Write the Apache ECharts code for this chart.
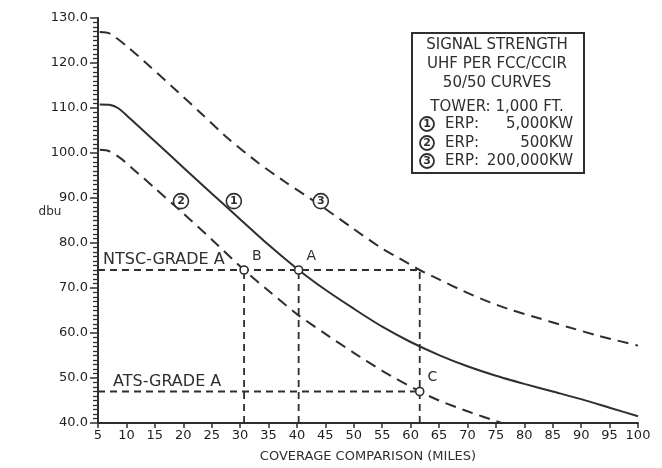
<!DOCTYPE html>
<html>
<head>
<meta charset="utf-8">
<script src="https://cdn.jsdelivr.net/npm/echarts@6/dist/echarts.min.js"></script>
<style>
  html, body { margin: 0; padding: 0; background: #ffffff; }
  #chart { width: 662px; height: 468px; }
</style>
</head>
<body>
<div id="chart"></div>
<script>
// UHF 50/50 field-strength curves, tower height 1,000 ft.
// Curve 1: ERP 5,000 kW (solid)
const curve1Miles = [5.3, 7, 8.5, 10, 12.6, 15, 20, 25, 30, 35, 40.3, 45, 50, 55, 60, 65, 70, 75, 80, 85, 90, 95, 100];
const curve1Dbu   = [110.8, 110.7, 110.0, 108.4, 105.4, 102.6, 96.8, 91.0, 85.3, 79.6, 74.0, 69.6, 65.4, 61.4, 58.0, 55.1, 52.6, 50.5, 48.7, 47.0, 45.3, 43.4, 41.5];
// Curve 2: ERP 500 kW (dashed)
const curve2Miles = [5.3, 7, 9, 11.3, 15, 20, 25, 30.7, 35, 40, 45, 50, 55, 61.6, 65, 70, 76];
const curve2Dbu   = [100.7, 100.4, 98.8, 96.3, 92.2, 86.6, 80.8, 74.0, 69.4, 64.2, 59.8, 55.6, 51.6, 47.0, 45.0, 42.6, 40.0];
// Curve 3: ERP 200,000 kW (dashed)
const curve3Miles = [5.3, 7, 10, 13.8, 18, 23.4, 28, 33.1, 38, 44.2, 50, 54.7, 58, 61.6, 65, 69.3, 74, 78, 82, 87.5, 93, 100];
const curve3Dbu   = [126.9, 126.6, 123.8, 119.6, 114.8, 108.5, 103.1, 97.9, 93.5, 88.3, 83.1, 79.0, 76.6, 74.0, 71.9, 69.3, 66.8, 65.0, 63.5, 61.4, 59.4, 57.2];

// Curve tags drawn on the plot
const curveTags      = ['1', '2', '3'];
const curveTagMiles  = [28.9, 19.6, 44.2];
const curveTagDbu    = [89.3, 89.3, 89.3];

// Grade A service levels
const gradeNames = ['NTSC-GRADE A', 'ATS-GRADE A'];
const gradeDbu   = [74, 47];
const gradeReach = [61.6, 61.6];   // distance where each level line ends

// Coverage points
const pointNames = ['A', 'B', 'C'];
const pointMiles = [40.3, 30.7, 61.6];
const pointDbu   = [74, 74, 47];
const dropTop    = [74, 74, 74];    // upper end of each vertical drop line

// Axis ranges
const xRange = [5, 100, 5];
const yRange = [40, 130, 10];

const INK = '#2e2e2e';
const FONT = 'DejaVu Sans';

const chart = echarts.init(document.getElementById('chart'), null, { renderer: 'canvas' });

const curveLine = (miles, dbu, dashed) => ({
  type: 'line',
  data: miles.map((m, i) => [m, dbu[i]]),
  showSymbol: false,
  smooth: 0.25,
  silent: true,
  lineStyle: { color: INK, width: 2, type: dashed ? [11, 7] : 'solid' },
  z: 3
});

const refLine = (pts) => ({
  type: 'line',
  data: pts,
  showSymbol: false,
  silent: true,
  lineStyle: { color: INK, width: 1.8, type: [7, 5] },
  z: 2
});

const series = [
  curveLine(curve1Miles, curve1Dbu, false),
  curveLine(curve2Miles, curve2Dbu, true),
  curveLine(curve3Miles, curve3Dbu, true)
];

// level lines
gradeDbu.forEach((v, i) => {
  series.push(refLine([[xRange[0], v], [gradeReach[i], v]]));
});
// vertical drop lines
pointMiles.forEach((m, i) => {
  series.push(refLine([[m, yRange[0]], [m, dropTop[i]]]));
});

// level captions
series.push({
  type: 'scatter',
  silent: true,
  symbolSize: 0,
  itemStyle: { opacity: 1 },
  data: gradeNames.map((n, i) => ({
    name: n,
    value: [xRange[0], gradeDbu[i]],
    label: { distance: i === 0 ? 5 : 15 }
  })),
  label: {
    show: true,
    position: 'right',
    offset: [0, -10],
    formatter: p => p.name,
    color: INK,
    opacity: 1,
    fontFamily: FONT,
    fontSize: 16
  },
  z: 4
});

// coverage points A, B, C
series.push({
  type: 'scatter',
  silent: true,
  symbol: 'circle',
  symbolSize: 8,
  itemStyle: { color: '#ffffff', borderColor: INK, borderWidth: 1.6, opacity: 1 },
  data: pointNames.map((n, i) => ({ name: n, value: [pointMiles[i], pointDbu[i]] })),
  label: {
    show: true,
    position: 'right',
    distance: 3,
    offset: [0, -14],
    formatter: p => p.name,
    color: INK,
    opacity: 1,
    fontFamily: FONT,
    fontSize: 14
  },
  z: 5
});

// circled curve numbers
series.push({
  type: 'scatter',
  silent: true,
  symbol: 'circle',
  symbolSize: 15,
  itemStyle: { color: '#ffffff', borderColor: INK, borderWidth: 1.6, opacity: 1 },
  data: curveTags.map((t, i) => ({ name: t, value: [curveTagMiles[i], curveTagDbu[i]] })),
  label: {
    show: true,
    position: 'inside',
    formatter: p => p.name,
    color: INK,
    opacity: 1,
    fontFamily: FONT,
    fontSize: 11,
    fontWeight: 'bold'
  },
  z: 6
});

// legend panel
const legendX = 497;
const legendLines = [
  ['SIGNAL STRENGTH', 45],
  ['UHF PER FCC/CCIR', 64],
  ['50/50 CURVES', 83],
  ['TOWER: 1,000 FT.', 107]
];
const legendRows = [
  ['1', 'ERP:', '5,000KW', 124],
  ['2', 'ERP:', '500KW', 143],
  ['3', 'ERP:', '200,000KW', 161]
];
const legendText = (text, x, y, align) => ({
  type: 'text',
  x: x, y: y,
  style: {
    text: text, fill: INK, font: '15px "' + FONT + '"',
    textAlign: align, textVerticalAlign: 'middle'
  },
  silent: true
});

const graphic = [
  {
    type: 'rect',
    shape: { x: 412, y: 33, width: 172, height: 140 },
    style: { fill: '#ffffff', stroke: INK, lineWidth: 2 },
    silent: true,
    z: 10
  }
];
legendLines.forEach(([t, y]) => graphic.push(Object.assign(legendText(t, legendX, y, 'center'), { z: 11 })));
legendRows.forEach(([n, lab, val, y]) => {
  graphic.push({
    type: 'circle',
    shape: { cx: 427, cy: y, r: 7 },
    style: { fill: '#ffffff', stroke: INK, lineWidth: 1.8 },
    silent: true, z: 11
  });
  graphic.push({
    type: 'text', x: 427, y: y + 0.5, z: 12, silent: true,
    style: { text: n, fill: INK, font: 'bold 11px "' + FONT + '"', textAlign: 'center', textVerticalAlign: 'middle' }
  });
  graphic.push(Object.assign(legendText(lab, 445, y, 'left'), { z: 11 }));
  graphic.push(Object.assign(legendText(val, 573, y, 'right'), { z: 11 }));
});
// y axis caption
graphic.push({
  type: 'text', x: 50, y: 212, silent: true,
  style: { text: 'dbu', fill: INK, font: '12px "' + FONT + '"', textAlign: 'center', textVerticalAlign: 'middle' }
});

chart.setOption({
  animation: false,
  backgroundColor: '#ffffff',
  grid: { left: 98, right: 24, top: 18, bottom: 43, containLabel: false },
  xAxis: {
    type: 'value',
    min: xRange[0], max: xRange[1], interval: xRange[2],
    name: 'COVERAGE COMPARISON (MILES)',
    nameLocation: 'middle',
    nameGap: 27,
    nameTextStyle: { color: INK, fontFamily: FONT, fontSize: 13 },
    axisLine: { show: true, onZero: false, lineStyle: { color: INK, width: 2 } },
    axisTick: { show: true, length: 5, lineStyle: { color: INK, width: 1.5 } },
    axisLabel: { color: '#1e1e1e', fontFamily: FONT, fontSize: 13, margin: 6 },
    splitLine: { show: false }
  },
  yAxis: {
    type: 'value',
    min: yRange[0], max: yRange[1], interval: yRange[2],
    axisLine: { show: true, onZero: false, lineStyle: { color: INK, width: 2 } },
    axisTick: { show: true, length: 8, lineStyle: { color: INK, width: 1.5 } },
    minorTick: { show: true, splitNumber: 10, length: 5, lineStyle: { color: INK, width: 1.3 } },
    axisLabel: { color: '#1e1e1e', fontFamily: FONT, fontSize: 13, margin: 10, formatter: v => v.toFixed(1) },
    splitLine: { show: false },
    minorSplitLine: { show: false }
  },
  graphic: graphic,
  series: series
});
</script>
</body>
</html>
